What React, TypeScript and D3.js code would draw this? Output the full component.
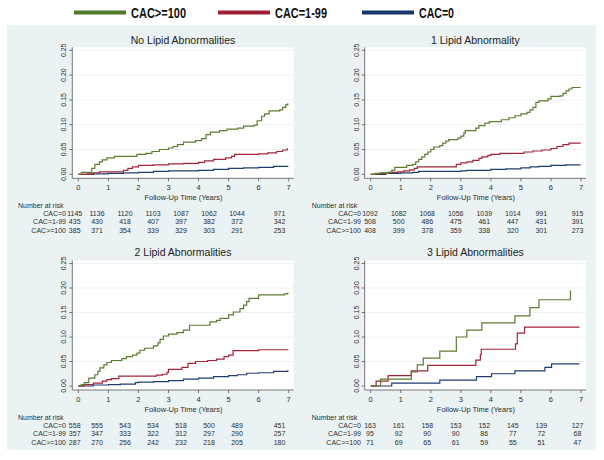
import React from "react";
import * as d3 from "d3";

// Cumulative incidence by CAC group, one panel per lipid-abnormality count
const groups = ["CAC=0", "CAC=1-99", "CAC>=100"];
const legendLabels = ["CAC>=100", "CAC=1-99", "CAC=0"];
const panelTitles = [
  "No Lipid Abnormalities",
  "1 Lipid Abnormality",
  "2 Lipid Abnormalities",
  "3 Lipid Abnormalities",
];
const years = [0, 1, 2, 3, 4, 5, 6, 7];
const yTicks = [0, 0.05, 0.1, 0.15, 0.2, 0.25];

// [time, cumulative incidence]
const p0Cac0 = [[0, 0], [0.5, 0.001], [1.0, 0.002], [1.5, 0.003], [2.0, 0.004], [2.5, 0.006], [3.0, 0.007], [4.0, 0.008], [4.5, 0.01], [5.0, 0.012], [5.5, 0.013], [6.0, 0.014], [6.5, 0.016], [6.97, 0.017]];
const p0Cac1 = [[0, 0], [0.3, 0.001], [0.5, 0.003], [0.7, 0.005], [1.5, 0.008], [1.65, 0.012], [1.8, 0.015], [2.0, 0.018], [2.5, 0.019], [3.0, 0.021], [3.5, 0.022], [4.0, 0.024], [4.2, 0.027], [4.5, 0.03], [4.9, 0.033], [5.1, 0.036], [5.2, 0.04], [6.0, 0.041], [6.3, 0.043], [6.6, 0.046], [6.8, 0.049], [6.95, 0.053]];
const p0Cac100 = [[0, 0], [0.1, 0.004], [0.45, 0.012], [0.55, 0.02], [0.7, 0.025], [0.8, 0.029], [0.95, 0.033], [1.2, 0.036], [1.95, 0.04], [2.25, 0.042], [2.45, 0.046], [2.7, 0.05], [3.0, 0.053], [3.15, 0.056], [3.3, 0.06], [3.5, 0.065], [3.9, 0.068], [4.1, 0.072], [4.25, 0.08], [4.4, 0.085], [4.7, 0.088], [4.95, 0.091], [5.3, 0.093], [5.5, 0.097], [5.85, 0.099], [5.95, 0.108], [6.1, 0.117], [6.2, 0.122], [6.35, 0.128], [6.7, 0.13], [6.8, 0.135], [6.9, 0.14], [6.97, 0.143]];

const p1Cac0 = [[0, 0], [0.5, 0.002], [1.0, 0.003], [1.4, 0.004], [1.6, 0.006], [3.0, 0.007], [3.2, 0.008], [4.0, 0.01], [4.5, 0.011], [5.0, 0.013], [5.3, 0.015], [5.6, 0.016], [6.0, 0.018], [6.5, 0.019], [6.97, 0.02]];
const p1Cac1 = [[0, 0], [0.3, 0.002], [0.6, 0.004], [0.9, 0.005], [1.1, 0.007], [1.3, 0.009], [1.45, 0.012], [1.55, 0.015], [2.85, 0.02], [3.0, 0.023], [3.2, 0.025], [3.4, 0.028], [3.6, 0.032], [3.7, 0.035], [3.9, 0.038], [4.0, 0.04], [4.3, 0.042], [5.1, 0.045], [5.4, 0.047], [5.7, 0.049], [6.0, 0.052], [6.2, 0.056], [6.4, 0.06], [6.6, 0.063], [6.97, 0.064]];
const p1Cac100 = [[0, 0], [0.15, 0.002], [0.3, 0.003], [0.6, 0.004], [0.7, 0.008], [0.8, 0.014], [1.2, 0.018], [1.4, 0.02], [1.5, 0.025], [1.6, 0.03], [1.7, 0.035], [1.8, 0.04], [1.9, 0.045], [2.0, 0.05], [2.1, 0.055], [2.3, 0.058], [2.4, 0.063], [2.5, 0.067], [2.6, 0.07], [2.9, 0.073], [3.0, 0.077], [3.1, 0.083], [3.15, 0.088], [3.5, 0.093], [3.6, 0.098], [3.8, 0.103], [3.95, 0.106], [4.35, 0.11], [4.6, 0.114], [4.8, 0.118], [5.0, 0.122], [5.2, 0.125], [5.3, 0.13], [5.4, 0.135], [5.5, 0.145], [5.6, 0.148], [5.9, 0.152], [6.0, 0.157], [6.3, 0.158], [6.4, 0.163], [6.5, 0.168], [6.6, 0.172], [6.7, 0.175], [6.97, 0.176]];

const p2Cac0 = [[0, 0], [0.5, 0.002], [1.0, 0.003], [1.4, 0.004], [1.9, 0.007], [2.0, 0.008], [2.5, 0.009], [3.0, 0.011], [3.5, 0.014], [4.0, 0.016], [4.5, 0.019], [5.0, 0.021], [5.3, 0.023], [5.6, 0.026], [6.0, 0.027], [6.5, 0.03], [6.97, 0.032]];
const p2Cac1 = [[0, 0], [0.2, 0.003], [0.5, 0.006], [0.8, 0.01], [0.95, 0.013], [1.1, 0.015], [1.35, 0.02], [2.6, 0.022], [2.8, 0.024], [2.95, 0.028], [3.0, 0.034], [3.45, 0.038], [3.65, 0.046], [3.9, 0.05], [4.3, 0.052], [4.6, 0.055], [4.85, 0.06], [5.0, 0.063], [5.15, 0.072], [6.0, 0.074], [6.97, 0.075]];
const p2Cac100 = [[0, 0], [0.1, 0.003], [0.2, 0.007], [0.35, 0.016], [0.55, 0.023], [0.65, 0.03], [0.72, 0.037], [0.85, 0.043], [0.95, 0.048], [1.1, 0.052], [1.45, 0.056], [1.6, 0.06], [1.8, 0.063], [1.95, 0.067], [2.05, 0.073], [2.2, 0.077], [2.5, 0.082], [2.65, 0.088], [2.72, 0.095], [2.83, 0.102], [3.0, 0.106], [3.28, 0.109], [3.5, 0.114], [3.7, 0.124], [4.38, 0.131], [4.6, 0.134], [4.72, 0.138], [5.0, 0.145], [5.16, 0.151], [5.38, 0.158], [5.5, 0.165], [5.6, 0.172], [5.68, 0.179], [6.0, 0.186], [6.85, 0.188], [6.97, 0.191]];

const p3Cac0 = [[0, 0], [0.7, 0.006], [2.3, 0.012], [3.52, 0.019], [4.02, 0.025], [4.8, 0.031], [5.8, 0.038], [6.02, 0.045], [6.95, 0.045]];
const p3Cac1 = [[0, 0], [0.18, 0.01], [0.58, 0.021], [1.35, 0.031], [1.9, 0.042], [3.5, 0.053], [3.65, 0.064], [3.68, 0.075], [4.82, 0.086], [4.88, 0.108], [5.12, 0.12], [6.95, 0.12]];
const p3Cac100 = [[0, 0], [0.33, 0.014], [1.35, 0.029], [1.55, 0.043], [1.75, 0.057], [2.3, 0.071], [2.85, 0.1], [3.2, 0.114], [3.7, 0.129], [4.8, 0.143], [5.3, 0.16], [5.6, 0.176], [6.65, 0.195]];

// number at risk, rows in the order of `groups`
const risk0 = [[1145, 1136, 1120, 1103, 1087, 1062, 1044, 971], [435, 430, 418, 407, 397, 382, 372, 342], [385, 371, 354, 339, 329, 303, 291, 253]];
const risk1 = [[1092, 1082, 1068, 1056, 1039, 1014, 991, 915], [508, 500, 486, 475, 461, 447, 431, 391], [408, 399, 378, 359, 338, 320, 301, 273]];
const risk2 = [[558, 555, 543, 534, 518, 500, 489, 451], [357, 347, 333, 322, 312, 297, 290, 257], [287, 270, 256, 242, 232, 218, 205, 180]];
const risk3 = [[163, 161, 158, 153, 152, 145, 139, 127], [95, 92, 90, 90, 86, 77, 72, 68], [71, 69, 65, 61, 59, 55, 51, 47]];

const colors = { "CAC=0": "#1f3f73", "CAC=1-99": "#a3243a", "CAC>=100": "#5a7d2e" };
const legendColors = { "CAC=0": "#17386b", "CAC=1-99": "#a11d33", "CAC>=100": "#4e7a27" };
const legendTextWidth = { "CAC>=100": 55, "CAC=1-99": 52, "CAC=0": 35 };
const font = "'Liberation Sans', Arial, sans-serif";
const textCol = "#2e2e2e";

// panel geometry: left/right column, top/bottom row
const cols = [
  { x0: 78.3, x7: 288.7, risk: [74.7, 97, 237, 279.5], labelRight: 66, nar: 18 },
  { x0: 370.7, x7: 581, risk: [370, 398.7, 541.3, 577.5], labelRight: 361, nar: 311.7 },
];
const rows = [
  { y0: 174.3, yTop: 50.3, shift: 0 },
  { y0: 386, yTop: 263.5, shift: 212 },
];

const panels = [
  { title: panelTitles[0], curves: [p0Cac0, p0Cac1, p0Cac100], risk: risk0, col: cols[0], row: rows[0] },
  { title: panelTitles[1], curves: [p1Cac0, p1Cac1, p1Cac100], risk: risk1, col: cols[1], row: rows[0] },
  { title: panelTitles[2], curves: [p2Cac0, p2Cac1, p2Cac100], risk: risk2, col: cols[0], row: rows[1] },
  { title: panelTitles[3], curves: [p3Cac0, p3Cac1, p3Cac100], risk: risk3, col: cols[1], row: rows[1] },
];

function Panel({ p }) {
  const { col, row } = p;
  const x = d3.scaleLinear().domain([0, 7]).range([col.x0, col.x7]);
  const y = d3.scaleLinear().domain([0, 0.25]).range([row.y0, row.yTop]);
  const rx = d3.scaleLinear().domain([0, 1, 6, 7]).range(col.risk);
  const line = d3.line().x(d => x(d[0])).y(d => y(d[1])).curve(d3.curveStepAfter);

  const left = col.x0 - 6;
  const right = col.x7 + 5;
  const top = row.yTop - 3;
  const bottom = row.y0 + 4;
  const sh = row.shift;

  return (
    <g>
      <text x={(left + right) / 2} y={43.5 + sh} textAnchor="middle" fontSize={10.5} fill="#222" fontFamily={font}>{p.title}</text>
      <rect x={left} y={top} width={right - left} height={bottom - top} fill="#fff" />
      {yTicks.slice(1).map(t => (
        <line key={t} x1={left} x2={right} y1={y(t)} y2={y(t)} stroke="#eaf2f3" strokeWidth={1} />
      ))}
      <line x1={left} x2={left} y1={top} y2={bottom} stroke="#555" strokeWidth={0.8} />
      <line x1={left} x2={right} y1={bottom} y2={bottom} stroke="#555" strokeWidth={0.8} />
      {yTicks.map(t => (
        <g key={t}>
          <line x1={left - 3} x2={left} y1={y(t)} y2={y(t)} stroke="#555" strokeWidth={0.8} />
          <text transform={`translate(${left - 6},${y(t)}) rotate(-90)`} textAnchor="middle" fontSize={7} fill={textCol} fontFamily={font}>{d3.format(".2f")(t)}</text>
        </g>
      ))}
      {years.map(t => (
        <g key={t}>
          <line x1={x(t)} x2={x(t)} y1={bottom} y2={bottom + 3} stroke="#555" strokeWidth={0.8} />
          <text x={x(t)} y={bottom + 12} textAnchor="middle" fontSize={7.5} fill={textCol} fontFamily={font}>{t}</text>
        </g>
      ))}
      <text x={x(3.5)} y={bottom + 22} textAnchor="middle" fontSize={7.5} fill={textCol} fontFamily={font}>Follow-Up Time (Years)</text>
      {p.curves.map((c, i) => (
        <path key={i} d={line(c)} fill="none" stroke={colors[groups[i]]} strokeWidth={1.2} />
      ))}
      <text x={col.nar} y={207.5 + sh} fontSize={7} fill={textCol} fontFamily={font}>Number at risk</text>
      {groups.map((g, i) => (
        <g key={g}>
          <text x={col.labelRight} y={215.5 + i * 8.5 + sh} textAnchor="end" fontSize={7} fill={textCol} fontFamily={font}>{g}</text>
          {p.risk[i].map((n, j) => (
            <text key={j} x={rx(years[j])} y={215.5 + i * 8.5 + sh} textAnchor="middle" fontSize={7} fill={textCol} fontFamily={font}>{n}</text>
          ))}
        </g>
      ))}
    </g>
  );
}

export default function App() {
  const legendX = d3.scalePoint().domain(legendLabels).range([74, 362]);
  return (
    <svg width={604} height={460} style={{ position: "absolute", left: 0, top: 0, background: "#fff" }}>
      {legendLabels.map(g => (
        <g key={g}>
          <line x1={legendX(g)} x2={legendX(g) + 52} y1={12.5} y2={12.5} stroke={legendColors[g]} strokeWidth={4} />
          <text x={legendX(g) + 57} y={17.5} fontSize={14.5} fontWeight="bold" fill="#111" fontFamily={font}
            textLength={legendTextWidth[g]} lengthAdjust="spacingAndGlyphs">{g}</text>
        </g>
      ))}
      <rect x={7} y={25} width={589} height={425} fill="#eaf2f3" />
      {panels.map((p, i) => <Panel key={i} p={p} />)}
    </svg>
  );
}
